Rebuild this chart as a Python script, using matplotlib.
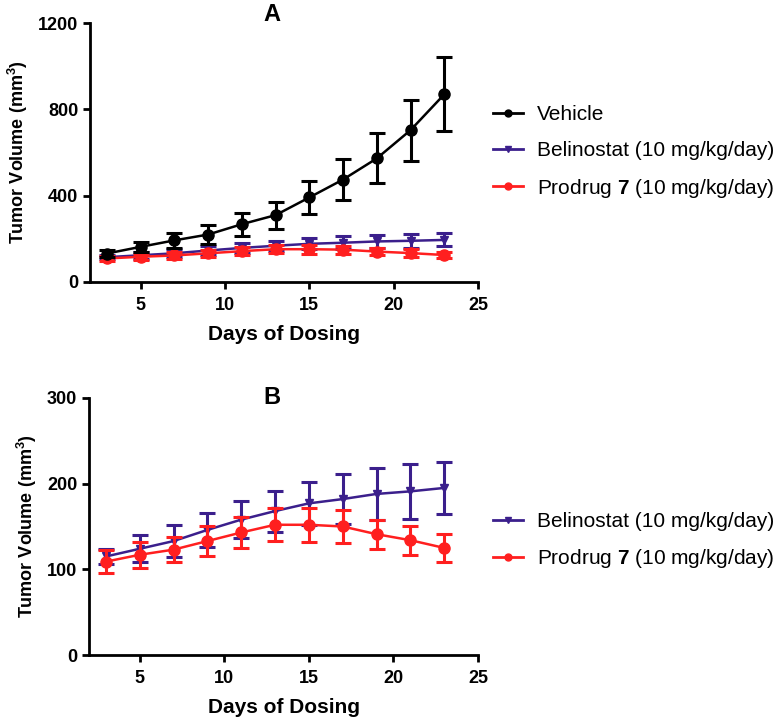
import numpy as np
import matplotlib
matplotlib.use('Agg')
import matplotlib.pyplot as plt
from matplotlib.lines import Line2D

plt.rcParams['font.family'] = ['Liberation Sans', 'DejaVu Sans']
plt.rcParams['mathtext.fontset'] = 'custom'
plt.rcParams['mathtext.rm'] = 'Liberation Sans'
plt.rcParams['mathtext.bf'] = 'Liberation Sans:bold'

# data
days = [3, 5, 7, 9, 11, 13, 15, 17, 19, 21, 23]
vehicle = [132, 163, 193, 220, 268, 310, 392, 475, 573, 704, 870]
vehicle_err = [15, 22, 35, 46, 54, 63, 75, 95, 116, 142, 172]
belinostat = [115, 124, 133, 146, 158, 168, 177, 182, 188, 191, 195]
belinostat_err = [9, 16, 19, 20, 22, 24, 25, 29, 30, 32, 30]
prodrug = [109, 117, 123, 133, 143, 152, 152, 150, 141, 134, 125]
prodrug_err = [13, 15, 15, 17, 18, 19, 20, 19, 17, 17, 16]

c_veh = 'black'
c_bel = '#3b1f8c'
c_pro = '#ff1f1f'

lab_veh = 'Vehicle'
lab_bel = 'Belinostat (10 mg/kg/day)'
lab_pro = r'Prodrug $\mathbf{7}$ (10 mg/kg/day)'

fig = plt.figure(figsize=(7.83, 7.19), dpi=100)
axA = fig.add_axes([0.115, 0.6078, 0.4955, 0.360])
axB = fig.add_axes([0.1137, 0.089, 0.4968, 0.3575])

eb = dict(capsize=6, elinewidth=2.2, capthick=2.2, linewidth=1.8)

axA.errorbar(days, prodrug, yerr=prodrug_err, color=c_pro, marker='o', markersize=8, zorder=3, **eb)
axA.errorbar(days, belinostat, yerr=belinostat_err, color=c_bel, marker='v', markersize=6, zorder=2, **eb)
axA.errorbar(days, vehicle, yerr=vehicle_err, color=c_veh, marker='o', markersize=8, zorder=4, **eb)

axB.errorbar(days, belinostat, yerr=belinostat_err, color=c_bel, marker='v', markersize=6, zorder=2, **eb)
axB.errorbar(days, prodrug, yerr=prodrug_err, color=c_pro, marker='o', markersize=8, zorder=3, **eb)

for ax, ylim, yt, title, ty in [(axA, 1200, [0, 400, 800, 1200], 'A', 1.032),
                                (axB, 300, [0, 100, 200, 300], 'B', 1.0)]:
    ax.set_xlim(2, 25)
    ax.set_ylim(0, ylim)
    ax.set_xticks([5, 10, 15, 20, 25])
    ax.set_yticks(yt)
    for s in ['top', 'right']:
        ax.spines[s].set_visible(False)
    for s in ['left', 'bottom']:
        ax.spines[s].set_linewidth(2)
    ax.tick_params(width=2, length=5, labelsize=13)
    ax.tick_params(axis='x', pad=6)
    for t in ax.get_xticklabels() + ax.get_yticklabels():
        t.set_fontweight('bold')
    ax.set_xlabel('Days of Dosing', fontsize=15, fontweight='bold', labelpad=8)
    ax.set_ylabel(r'Tumor Volume (mm$^\mathbf{3}$)', fontsize=13, fontweight='bold', labelpad=6)
    ax.text(0.47, ty, title, transform=ax.transAxes, fontsize=17, fontweight='bold',
            ha='center', va='center')
    for ln in ax.get_lines():
        ln.set_clip_on(False)

def handle(c, m):
    return Line2D([], [], color=c, marker=m, markersize=5, linewidth=2)

leg_kw = dict(loc='center left', frameon=False, fontsize=15, handlelength=1.4,
              handletextpad=0.7, labelspacing=0.8, borderaxespad=0)
axA.legend([handle(c_veh, 'o'), handle(c_bel, 'v'), handle(c_pro, 'o')],
           [lab_veh, lab_bel, lab_pro], bbox_to_anchor=(1.018, 0.50), **leg_kw)
axB.legend([handle(c_bel, 'v'), handle(c_pro, 'o')],
           [lab_bel, lab_pro], bbox_to_anchor=(1.018, 0.443), **leg_kw)

fig.savefig('out.png', dpi=100)
